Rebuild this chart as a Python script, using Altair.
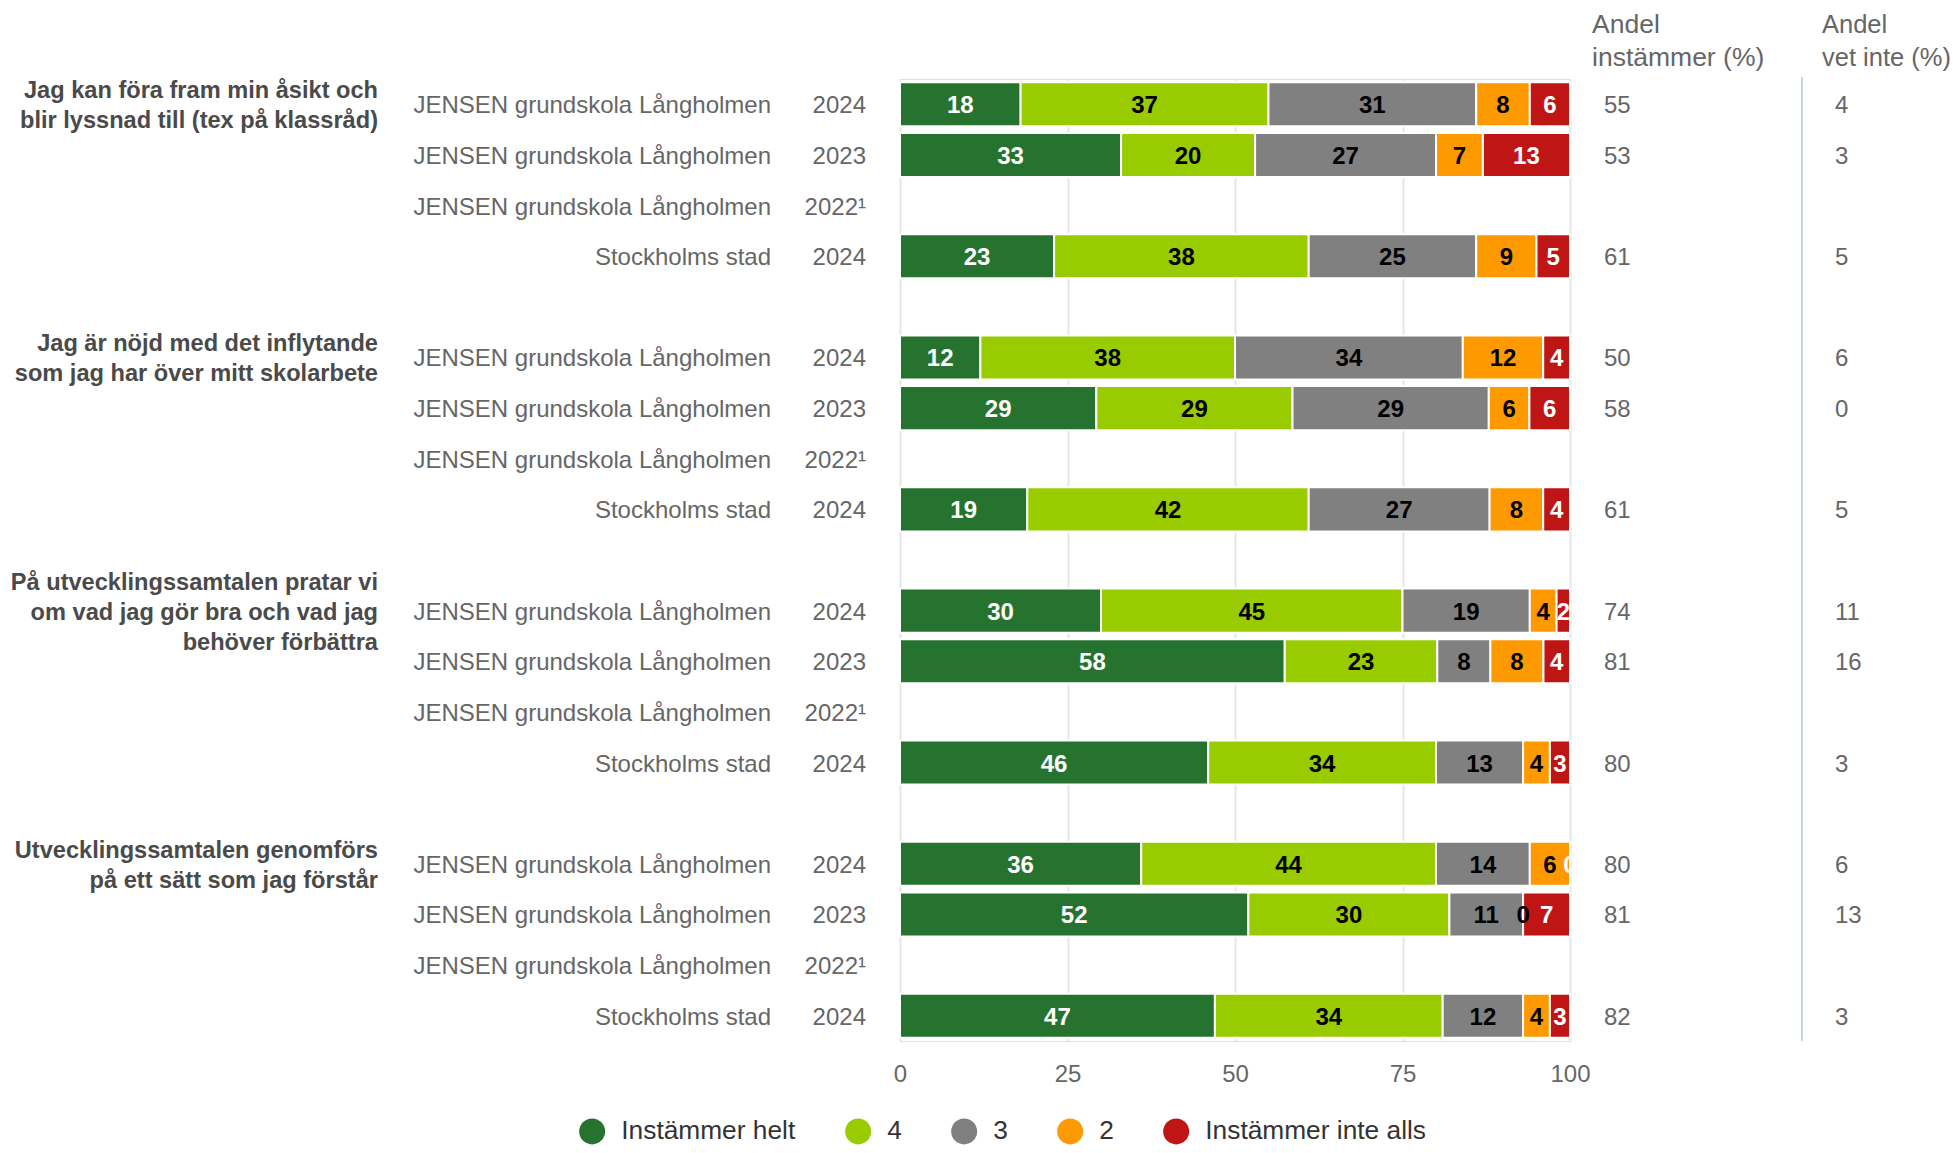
import altair as alt
import pandas as pd

# ---------------- data ----------------
questions = [
    ["Jag kan föra fram min åsikt och", "blir lyssnad till (tex på klassråd)"],
    ["Jag är nöjd med det inflytande", "som jag har över mitt skolarbete"],
    ["På utvecklingssamtalen pratar vi", "om vad jag gör bra och vad jag", "behöver förbättra"],
    ["Utvecklingssamtalen genomförs", "på ett sätt som jag förstår"],
]
units = ["JENSEN grundskola Långholmen", "JENSEN grundskola Långholmen",
         "JENSEN grundskola Långholmen", "Stockholms stad"]
years = ["2024", "2023", "2022¹", "2024"]

categories = ["Instämmer helt", "4", "3", "2", "Instämmer inte alls"]
colors = ["#267330", "#99cc00", "#808080", "#ff9900", "#bf1515"]
label_colors = ["#ffffff", "#000000", "#000000", "#000000", "#ffffff"]

# 16 rows: 4 questions x (2024, 2023, 2022¹, Stockholms stad 2024)
helt = [18, 33, None, 23, 12, 29, None, 19, 30, 58, None, 46, 36, 52, None, 47]
v4   = [37, 20, None, 38, 38, 29, None, 42, 45, 23, None, 34, 44, 30, None, 34]
v3   = [31, 27, None, 25, 34, 29, None, 27, 19, 8, None, 13, 14, 11, None, 12]
v2   = [8, 7, None, 9, 12, 6, None, 8, 4, 8, None, 4, 6, 0, None, 4]
inte = [6, 13, None, 5, 4, 6, None, 4, 2, 4, None, 3, 0, 7, None, 3]
andel_instammer = [55, 53, None, 61, 50, 58, None, 61, 74, 81, None, 80, 80, 81, None, 82]
andel_vet_inte  = [4, 3, None, 5, 6, 0, None, 5, 11, 16, None, 3, 6, 13, None, 3]

header_instammer = ["Andel", "instämmer (%)"]
header_vet_inte = ["Andel", "vet inte (%)"]
x_ticks = [0, 25, 50, 75, 100]

series = [helt, v4, v3, v2, inte]

# ---------------- tables ----------------
n_rows = 19  # 4 groups of 4 rows + 3 spacer rows
row_domain = list(range(n_rows))

long_recs, row_recs, val_recs, grp_recs = [], [], [], []
for g in range(4):
    grp_recs.append({"row": g * 5, "q": questions[g], "n": len(questions[g])})
    for r in range(4):
        k = g * 4 + r
        idx = g * 5 + r
        row_recs.append({"row": idx, "unit": units[r], "year": years[r]})
        if andel_instammer[k] is not None:
            val_recs.append({"row": idx, "inst": str(andel_instammer[k]),
                             "vet": str(andel_vet_inte[k])})
        for c, vals in enumerate(series):
            v = vals[k]
            if v is None:
                continue
            long_recs.append({"row": idx, "cat": categories[c], "order": c,
                              "value": v, "label": str(v),
                              "tcolor": label_colors[c]})

df_long = pd.DataFrame(long_recs)
df_rows = pd.DataFrame(row_recs)
df_vals = pd.DataFrame(val_recs)
df_grp = pd.DataFrame(grp_recs)
df_head = pd.DataFrame({"h1": [header_instammer], "h2": [header_vet_inte]})

FONT = "Liberation Sans"
W, H = 670, 962
DY = 2
LH = 30

yscale = alt.Scale(domain=row_domain, paddingInner=0.13, paddingOuter=0.065)
yenc = alt.Y("row:O", scale=yscale,
             axis=alt.Axis(labels=False, title=None, ticks=True, tickBand="extent",
                           tickSize=20, tickColor="#ccd6eb", tickWidth=2,
                           domain=False, grid=False))
yenc_plain = alt.Y("row:O", scale=yscale, axis=None)
xscale = alt.Scale(domain=[0, 1], nice=False, zero=True)

base = (alt.Chart(df_long)
        .transform_stack(stack="value", groupby=["row"],
                         sort=[alt.SortField("order", order="ascending")],
                         as_=["x0", "x1"], offset="normalize")
        .transform_calculate(mid="(datum.x0 + datum.x1) / 2"))

bars = base.mark_bar(stroke="white", strokeWidth=2).encode(
    x=alt.X("x0:Q", scale=xscale,
            axis=alt.Axis(values=[t / 100 for t in x_ticks],
                          labelExpr="format(datum.value * 100, 'd')",
                          title=None, grid=True, gridColor="#e6e6e6", gridWidth=2,
                          domain=False, ticks=False, labelFontSize=24,
                          labelColor="#666666", labelPadding=21, labelFont=FONT,
                          labelFlush=False)),
    x2="x1:Q",
    y=yenc,
    color=alt.Color("cat:N", scale=alt.Scale(domain=categories, range=colors),
                    legend=alt.Legend(orient="none", legendX=-321, legendY=1039,
                                      direction="horizontal", title=None,
                                      symbolType="circle", symbolSize=676,
                                      symbolStrokeWidth=0, labelFontSize=26.3,
                                      labelColor="#333333", labelFont=FONT,
                                      labelLimit=0,
                                      columnPadding=49, labelOffset=16, padding=0)),
)

bar_labels = base.mark_text(fontSize=24, fontWeight="bold", font=FONT,
                            baseline="middle", align="center", clip=True, dy=DY).encode(
    x=alt.X("mid:Q", scale=xscale),
    y=yenc_plain,
    text="label:N",
    fill=alt.Fill("tcolor:N", scale=None, legend=None),
)

unit_text = alt.Chart(df_rows).mark_text(
    align="right", baseline="middle", fontSize=24, color="#666666", font=FONT, dy=DY
).encode(x=alt.value(-129), y=yenc_plain, text="unit:N")

year_text = alt.Chart(df_rows).mark_text(
    align="right", baseline="middle", fontSize=24, color="#666666", font=FONT, dy=DY
).encode(x=alt.value(-34), y=yenc_plain, text="year:N")


def group_layer(nlines):
    return alt.Chart(df_grp).transform_filter(f"datum.n == {nlines}").mark_text(
        align="right", baseline="middle", fontSize=23.6, fontWeight="bold",
        color="#4a4a4a", font=FONT, lineHeight=LH, dy=DY - (nlines - 1) * LH / 2
    ).encode(x=alt.value(-522), y=yenc_plain, text="q")


group_text2 = group_layer(2)
group_text3 = group_layer(3)

inst_text = alt.Chart(df_vals).mark_text(
    align="left", baseline="middle", fontSize=24, color="#666666", font=FONT, dy=DY
).encode(x=alt.value(704), y=yenc_plain, text="inst:N")

vet_text = alt.Chart(df_vals).mark_text(
    align="left", baseline="middle", fontSize=24, color="#666666", font=FONT, dy=DY
).encode(x=alt.value(935), y=yenc_plain, text="vet:N")

head1 = alt.Chart(df_head).mark_text(
    align="left", baseline="alphabetic", fontSize=26.5, color="#666666", font=FONT,
    lineHeight=33
).encode(x=alt.value(692), y=alt.value(-46), text="h1")

head2 = alt.Chart(df_head).mark_text(
    align="left", baseline="alphabetic", fontSize=25.5, color="#666666", font=FONT,
    lineHeight=33
).encode(x=alt.value(922), y=alt.value(-46), text="h2")

sep = alt.Chart(df_head).mark_rule(color="#c9d3ea", strokeWidth=2).encode(
    x=alt.value(902), y=alt.value(-2), y2=alt.value(H))

chart = (alt.layer(bars, bar_labels, unit_text, year_text, group_text2, group_text3,
                   inst_text, vet_text, head1, head2, sep)
         .properties(width=W, height=H,
                     padding={"left": 892, "top": 71, "right": 381, "bottom": 104},
                     autosize=alt.AutoSizeParams(type="none"))
         .configure_view(stroke=None)
         .configure(font=FONT))

chart.save("out.html", embed_options={"renderer": "svg", "actions": False})
